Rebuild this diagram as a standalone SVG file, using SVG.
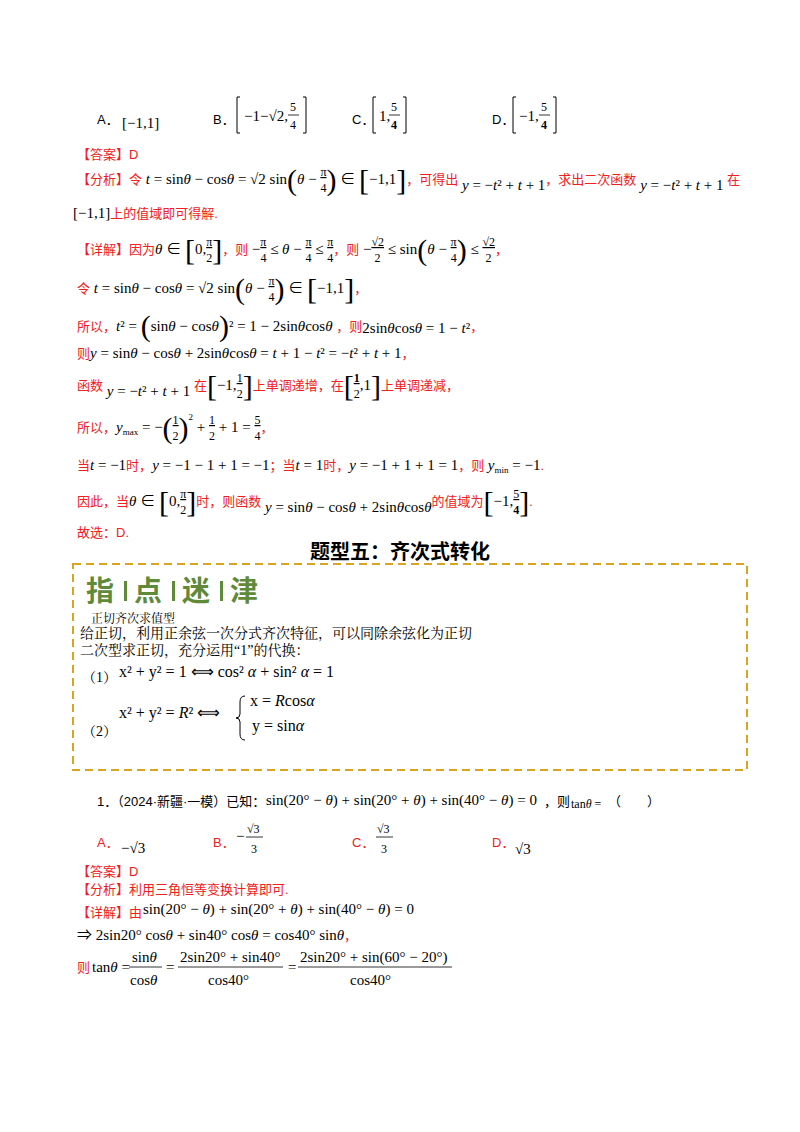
<svg xmlns="http://www.w3.org/2000/svg" width="800" height="1132" viewBox="0 0 800 1132">
<style>
text{font-family:"Liberation Serif","Noto Sans CJK SC",serif;font-size:15px;fill:#000}
.r{font-family:"Liberation Sans","Noto Sans CJK SC",sans-serif;fill:#f02020;font-size:13px}
.s{font-family:"Liberation Sans","Noto Sans CJK SC",sans-serif;font-size:13px}
.i{font-style:italic}
.n{font-size:12px;text-decoration:underline}
.d{font-size:12px}
.B{font-size:30px;font-weight:100}
.sub{font-size:9px}
.br{fill:none;stroke:#000;stroke-width:1}
.fl{stroke:#000;stroke-width:0.8}
.title{font-family:"Liberation Sans","Noto Sans CJK SC",sans-serif;font-size:20px;font-weight:bold}
.zd{font-family:"Liberation Sans","Noto Sans CJK SC",sans-serif;font-size:28px;font-weight:bold;fill:#5f8a3a}
.box{font-family:"Liberation Serif","Noto Serif CJK SC","Noto Sans CJK SC",serif;font-size:14px}
.f16{font-size:16px}
</style>
<rect width="800" height="1132" fill="#fff"/>
<g id="options1">
<text x="97" y="124" class="s">A．</text>
<text x="122" y="128">[−1,1]</text>
<text x="213" y="124" class="s">B．</text>
<path class="br" d="M240,97 h-3 v36 h3 M303,97 h3 v36 h-3"/>
<text x="244" y="121">−1−√2,</text>
<text x="290" y="111" class="d">5</text><line class="fl" x1="288" y1="115" x2="299" y2="115"/><text x="290" y="129" class="d">4</text>
<text x="352" y="124" class="s">C．</text>
<path class="br" d="M376,97 h-3 v36 h3 M403,97 h3 v36 h-3"/>
<text x="379" y="121">1,</text>
<text x="391" y="111" class="d">5</text><line class="fl" x1="389" y1="115" x2="400" y2="115"/><text x="391" y="129" class="d" font-weight="bold">4</text>
<text x="492" y="124" class="s">D．</text>
<path class="br" d="M516,97 h-3 v36 h3 M553,97 h3 v36 h-3"/>
<text x="519" y="121">−1,</text>
<text x="541" y="111" class="d">5</text><line class="fl" x1="539" y1="115" x2="550" y2="115"/><text x="541" y="129" class="d" font-weight="bold">4</text>
</g>
<g id="solution1">
<text x="77" y="159" class="r">【答案】D</text>
<text x="77" y="184"><tspan class="r">【分析】令</tspan> <tspan class="i">t</tspan> = sin<tspan class="i">θ</tspan> − cos<tspan class="i">θ</tspan> = √2 sin<tspan class="B" dy="6">(</tspan><tspan class="i" dy="-6">θ</tspan> − <tspan class="n" dy="-8">π</tspan><tspan class="d" dx="-6" dy="16">4</tspan><tspan class="B" dy="-2">)</tspan><tspan dy="-6"> ∈ </tspan><tspan class="B" dy="6">[</tspan><tspan dy="-6">−1,1</tspan><tspan class="B" dy="6">]</tspan><tspan class="r" dy="-6">，可得出</tspan><tspan dy="6"> <tspan class="i">y</tspan> = −<tspan class="i">t</tspan>² + <tspan class="i">t</tspan> + 1</tspan><tspan class="r" dy="-6">，求出二次函数</tspan><tspan dy="6"> <tspan class="i">y</tspan> = −<tspan class="i">t</tspan>² + <tspan class="i">t</tspan> + 1</tspan><tspan class="r" dy="-6"> 在</tspan></text>
<text x="73" y="218">[−1,1]<tspan class="r">上的值域即可得解.</tspan></text>

<text x="77" y="254"><tspan class="r">【详解】因为</tspan><tspan class="i">θ</tspan> ∈ <tspan class="B" dy="6">[</tspan><tspan dy="-6">0,</tspan><tspan class="n" dy="-8">π</tspan><tspan class="d" dx="-6" dy="16">2</tspan><tspan class="B" dy="-2">]</tspan><tspan class="r" dy="-6">，则 </tspan>−<tspan class="n" dy="-8">π</tspan><tspan class="d" dx="-6" dy="16">4</tspan><tspan dy="-8"> ≤ <tspan class="i">θ</tspan> − </tspan><tspan class="n" dy="-8">π</tspan><tspan class="d" dx="-6" dy="16">4</tspan><tspan dy="-8"> ≤ </tspan><tspan class="n" dy="-8">π</tspan><tspan class="d" dx="-6" dy="16">4</tspan><tspan class="r" dy="-8">，则 </tspan>−<tspan class="n" dy="-8">√2</tspan><tspan class="d" dx="-9.5" dy="16">2</tspan><tspan dx="3.5" dy="-8"> ≤ sin</tspan><tspan class="B" dy="6">(</tspan><tspan class="i" dy="-6">θ</tspan> − <tspan class="n" dy="-8">π</tspan><tspan class="d" dx="-6" dy="16">4</tspan><tspan class="B" dy="-2">)</tspan><tspan dy="-6"> ≤ </tspan><tspan class="n" dy="-8">√2</tspan><tspan class="d" dx="-9.5" dy="16">2</tspan><tspan class="r" dx="3.5" dy="-8">，</tspan></text>

<text x="77" y="293"><tspan class="r">令</tspan> <tspan class="i">t</tspan> = sin<tspan class="i">θ</tspan> − cos<tspan class="i">θ</tspan> = √2 sin<tspan class="B" dy="6">(</tspan><tspan class="i" dy="-6">θ</tspan> − <tspan class="n" dy="-8">π</tspan><tspan class="d" dx="-6" dy="16">4</tspan><tspan class="B" dy="-2">)</tspan><tspan dy="-6"> ∈ </tspan><tspan class="B" dy="6">[</tspan><tspan dy="-6">−1,1</tspan><tspan class="B" dy="6">]</tspan><tspan class="r" dy="-6">，</tspan></text>

<text x="77" y="331"><tspan class="r">所以，</tspan><tspan class="i">t</tspan>² = <tspan class="B" dy="5">(</tspan><tspan dy="-5">sin<tspan class="i">θ</tspan> − cos<tspan class="i">θ</tspan></tspan><tspan class="B" dy="5">)</tspan><tspan dy="-5">² = 1 − 2sin<tspan class="i">θ</tspan>cos<tspan class="i">θ</tspan> </tspan><tspan class="r">，则</tspan><tspan dy="2">2sin<tspan class="i">θ</tspan>cos<tspan class="i">θ</tspan> = 1 − <tspan class="i">t</tspan>²</tspan><tspan class="r" dy="-2">，</tspan></text>

<text x="77" y="358"><tspan class="r">则</tspan><tspan class="i">y</tspan> = sin<tspan class="i">θ</tspan> − cos<tspan class="i">θ</tspan> + 2sin<tspan class="i">θ</tspan>cos<tspan class="i">θ</tspan> = <tspan class="i">t</tspan> + 1 − <tspan class="i">t</tspan>² = −<tspan class="i">t</tspan>² + <tspan class="i">t</tspan> + 1<tspan class="r">，</tspan></text>

<text x="77" y="390"><tspan class="r">函数</tspan><tspan dy="6"> <tspan class="i">y</tspan> = −<tspan class="i">t</tspan>² + <tspan class="i">t</tspan> + 1 </tspan><tspan class="r" dy="-6">在</tspan><tspan class="B" dy="6">[</tspan><tspan dy="-6">−1,</tspan><tspan class="n" dy="-8">1</tspan><tspan class="d" dx="-6" dy="16">2</tspan><tspan class="B" dy="-2">]</tspan><tspan class="r" dy="-6">上单调递增，在</tspan><tspan class="B" dy="6">[</tspan><tspan class="n" dy="-14" font-weight="bold">1</tspan><tspan class="d" dx="-6" dy="16">2</tspan><tspan dy="-8">,1</tspan><tspan class="B" dy="6">]</tspan><tspan class="r" dy="-6">上单调递减，</tspan></text>

<text x="77" y="432"><tspan class="r">所以，</tspan><tspan class="i">y</tspan><tspan class="sub" dy="3">max</tspan><tspan dy="-3"> = −</tspan><tspan class="B" dy="6">(</tspan><tspan class="n" dy="-14">1</tspan><tspan class="d" dx="-6" dy="16">2</tspan><tspan class="B" dy="-2">)</tspan><tspan class="sub" dy="-18">2</tspan><tspan dy="12"> + </tspan><tspan class="n" dy="-8">1</tspan><tspan class="d" dx="-6" dy="16">2</tspan><tspan dy="-8"> + 1 = </tspan><tspan class="n" dy="-8">5</tspan><tspan class="d" dx="-6" dy="16">4</tspan><tspan class="r" dy="-8">，</tspan></text>

<text x="77" y="470"><tspan class="r">当</tspan><tspan class="i">t</tspan> = −1<tspan class="r">时，</tspan><tspan class="i">y</tspan> = −1 − 1 + 1 = −1<tspan class="r">；当</tspan><tspan class="i">t</tspan> = 1<tspan class="r">时，</tspan><tspan class="i">y</tspan> = −1 + 1 + 1 = 1<tspan class="r">，则 </tspan><tspan class="i">y</tspan><tspan class="sub" dy="3">min</tspan><tspan dy="-3"> = −1</tspan><tspan class="r">.</tspan></text>

<text x="77" y="506"><tspan class="r">因此，当</tspan><tspan class="i">θ</tspan> ∈ <tspan class="B" dy="6">[</tspan><tspan dy="-6">0,</tspan><tspan class="n" dy="-8">π</tspan><tspan class="d" dx="-6" dy="16">2</tspan><tspan class="B" dy="-2">]</tspan><tspan class="r" dy="-6">时，则函数</tspan><tspan dy="6"> <tspan class="i">y</tspan> = sin<tspan class="i">θ</tspan> − cos<tspan class="i">θ</tspan> + 2sin<tspan class="i">θ</tspan>cos<tspan class="i">θ</tspan></tspan><tspan class="r" dy="-6">的值域为</tspan><tspan class="B" dy="6">[</tspan><tspan dy="-6">−1,</tspan><tspan class="n" dy="-8">5</tspan><tspan class="d" dx="-6" dy="16" font-weight="bold">4</tspan><tspan class="B" dy="-2">]</tspan><tspan class="r" dy="-6">.</tspan></text>
<text x="77" y="537" class="r">故选：D.</text>
</g>
<g id="section-title">
<text x="400" y="559" text-anchor="middle" class="title">题型五：齐次式转化</text>
</g>
<g id="tip-box">
<rect x="73" y="564" width="674" height="206" fill="none" stroke="#d9a520" stroke-width="2" stroke-dasharray="8,5"/>
<text x="86" y="601" class="zd">指</text>
<rect x="124" y="581" width="3" height="20" fill="#5f8a3a"/>
<text x="134" y="601" class="zd">点</text>
<rect x="172" y="581" width="3" height="20" fill="#5f8a3a"/>
<text x="182" y="601" class="zd">迷</text>
<rect x="220" y="581" width="3" height="20" fill="#5f8a3a"/>
<text x="230" y="601" class="zd">津</text>
<text x="91" y="623" class="box" style="font-size:12px">正切齐次求值型</text>
<text x="80" y="638" class="box">给正切，利用正余弦一次分式齐次特征，可以同除余弦化为正切</text>
<text x="80" y="655" class="box">二次型求正切，充分运用“1”的代换：</text>
<text x="82" y="682" class="box">（1）</text>
<text x="119" y="677" class="f16">x² + y² = 1 ⟺ cos² <tspan class="i">α</tspan> + sin² <tspan class="i">α</tspan> = 1</text>
<text x="119" y="718" class="f16">x² + y² = <tspan class="i">R</tspan>² ⟺</text>
<path class="br" d="M245,696 q-5,0 -5,6 v12 q0,4 -4,4 q4,0 4,4 v12 q0,6 5,6"/>
<text x="250" y="706" class="f16">x = <tspan class="i">R</tspan>cos<tspan class="i">α</tspan></text>
<text x="252" y="731" class="f16">y = sin<tspan class="i">α</tspan></text>
<text x="82" y="736" class="box">（2）</text>
</g>
<g id="question1">
<text x="97" y="806" class="s">1．（2024·新疆·一模）已知：</text>
<text x="266" y="805">sin(20° − <tspan class="i">θ</tspan>) + sin(20° + <tspan class="i">θ</tspan>) + sin(40° − <tspan class="i">θ</tspan>) = 0</text>
<text x="544" y="806" class="s">，则</text>
<text x="571" y="808" style="font-size:12px">tan<tspan class="i">θ</tspan> =</text>
<text x="608" y="806" class="s">（　　）</text>
<text x="97" y="847" class="r">A．</text><text x="121" y="853">−√3</text>
<text x="213" y="847" class="r">B．</text>
<text x="236" y="841">−</text><text x="247" y="833" class="d">√3</text><line class="fl" x1="246" y1="837" x2="263" y2="837"/><text x="251" y="853" class="d">3</text>
<text x="352" y="847" class="r">C．</text>
<text x="377" y="833" class="d">√3</text><line class="fl" x1="376" y1="837" x2="393" y2="837"/><text x="381" y="853" class="d">3</text>
<text x="492" y="847" class="r">D．</text><text x="515" y="854">√3</text>
<text x="77" y="876" class="r">【答案】D</text>
<text x="77" y="894" class="r">【分析】利用三角恒等变换计算即可.</text>
<text x="77" y="917" class="r">【详解】由</text>
<text x="143" y="914">sin(20° − <tspan class="i">θ</tspan>) + sin(20° + <tspan class="i">θ</tspan>) + sin(40° − <tspan class="i">θ</tspan>) = 0</text>
<text x="77" y="940">⇒ 2sin20° cos<tspan class="i">θ</tspan> + sin40° cos<tspan class="i">θ</tspan> = cos40° sin<tspan class="i">θ</tspan><tspan class="r">，</tspan></text>
<text x="77" y="972" class="r">则</text>
<text x="92" y="972">tan<tspan class="i">θ</tspan> =</text>
<text x="132" y="962">sin<tspan class="i">θ</tspan></text><line class="fl" x1="129" y1="967" x2="162" y2="967"/><text x="130" y="985">cos<tspan class="i">θ</tspan></text>
<text x="166" y="972">=</text>
<text x="180" y="962">2sin20° + sin40°</text><line class="fl" x1="178" y1="967" x2="283" y2="967"/><text x="208" y="985">cos40°</text>
<text x="288" y="972">=</text>
<text x="300" y="962">2sin20° + sin(60° − 20°)</text><line class="fl" x1="298" y1="967" x2="452" y2="967"/><text x="350" y="985">cos40°</text>
</g>
</svg>
